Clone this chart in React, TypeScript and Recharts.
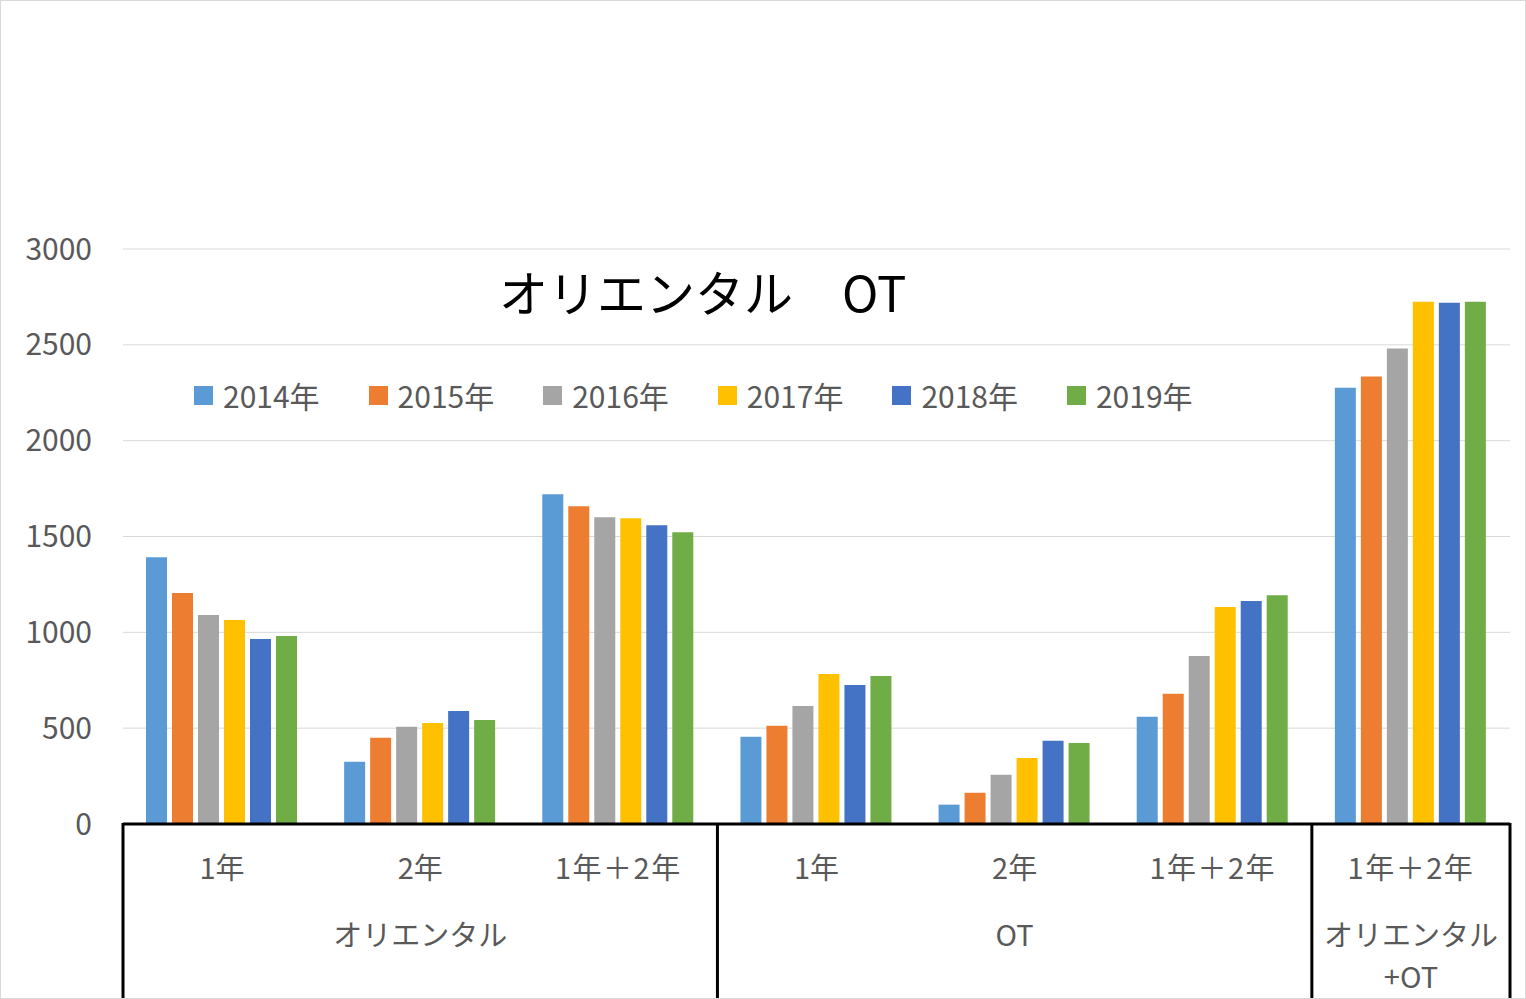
import React from 'react'
import { BarChart, Bar, XAxis, YAxis, CartesianGrid, Legend } from 'recharts'

const categories = ['1年', '2年', '1年＋2年', '1年', '2年', '1年＋2年', '1年＋2年']
const groupLabels = [['オリエンタル'], ['OT'], ['オリエンタル', '+OT']]
const groupStarts = [0, 3, 6]
const groupSizes = [3, 3, 1]

const seriesNames = ['2014年', '2015年', '2016年', '2017年', '2018年', '2019年']
const y2014 = [1392, 325, 1720, 455, 101, 559, 2276]
const y2015 = [1205, 450, 1658, 512, 163, 679, 2335]
const y2016 = [1090, 507, 1600, 616, 257, 877, 2481]
const y2017 = [1064, 527, 1595, 782, 345, 1132, 2725]
const y2018 = [965, 590, 1559, 725, 434, 1163, 2720]
const y2019 = [981, 543, 1522, 772, 423, 1194, 2725]
const yTicks = [0, 500, 1000, 1500, 2000, 2500, 3000]

const COLORS = ['#5B9BD5', '#ED7D31', '#A5A5A5', '#FFC000', '#4472C4', '#70AD47']
const FONT = "'Noto Sans CJK JP', 'Noto Sans', sans-serif"
const TEXT = '#595959'

const allSeries = [y2014, y2015, y2016, y2017, y2018, y2019]
const data = categories.map((c, i) => {
  const row: Record<string, string | number> = { name: c }
  seriesNames.forEach((s, j) => {
    row[s] = allSeries[j][i]
  })
  return row
})

function CategoryTick(props: any) {
  const { x, y, payload } = props
  const index: number = payload.index
  const band = 198.14
  const top = y - 8
  const g = groupStarts.findIndex((s, k) => index >= s && index < s + groupSizes[k])
  const isGroupStart = groupStarts.includes(index)
  const isGroupMid = index - groupStarts[g] === Math.floor((groupSizes[g] - 1) / 2)
  const groupCenter = x + ((groupSizes[g] - 1) / 2 - (index - groupStarts[g])) * band
  const lines = groupLabels[g]
  return (
    <g>
      <text
        x={x}
        y={top + 42}
        textAnchor="middle"
        dominantBaseline="central"
        fill={TEXT}
        fontSize={29}
        fontFamily={FONT}
        letterSpacing={categories[index].length > 2 ? 1.5 : 0}
      >
        {categories[index]}
      </text>
      {isGroupMid &&
        lines.map((l, k) => (
          <text
            key={k}
            x={groupCenter}
            y={top + 109 + k * 42}
            textAnchor="middle"
            dominantBaseline="central"
            fill={TEXT}
            fontSize={29}
            fontFamily={FONT}
          >
            {l}
          </text>
        ))}
      {isGroupStart && (
        <line x1={x - band / 2} x2={x - band / 2} y1={top - 1} y2={top + 180} stroke="#000" strokeWidth={3} />
      )}
      {index === categories.length - 1 && (
        <line x1={x + band / 2} x2={x + band / 2} y1={top - 1} y2={top + 180} stroke="#000" strokeWidth={3} />
      )}
    </g>
  )
}

function LegendContent() {
  return (
    <div style={{ display: 'flex', alignItems: 'center', height: 40 }}>
      {seriesNames.map((s, i) => (
        <div key={s} style={{ display: 'flex', alignItems: 'center', width: 174.6 }}>
          <div style={{ width: 19, height: 19, backgroundColor: COLORS[i] }} />
          <span style={{ marginLeft: 10, fontSize: 30, color: TEXT, fontFamily: FONT, lineHeight: '40px' }}>
            {s}
          </span>
        </div>
      ))}
    </div>
  )
}

export default function App() {
  return (
    <div style={{ position: 'absolute', left: 0, top: 0, width: 1526, height: 999, background: '#fff', overflow: 'hidden' }}>
      <BarChart
        width={1526}
        height={999}
        data={data}
        margin={{ top: 249, right: 16, left: 0, bottom: 0 }}
        barCategoryGap={23}
        barGap={5}
      >
        <CartesianGrid vertical={false} stroke="#d9d9d9" strokeWidth={1} />
        <XAxis
          dataKey="name"
          height={175}
          interval={0}
          tickLine={false}
          axisLine={{ stroke: '#000', strokeWidth: 3 }}
          tick={<CategoryTick />}
          allowDuplicatedCategory
        />
        <YAxis
          width={123}
          domain={[0, 3000]}
          ticks={yTicks}
          tickLine={false}
          axisLine={false}
          tickMargin={25}
          tick={{ fill: TEXT, fontSize: 30, fontFamily: FONT }}
        />
        <Legend
          verticalAlign="middle"
          layout="horizontal"
          content={<LegendContent />}
          wrapperStyle={{ top: 375, left: 194, width: 1100, height: 40 }}
        />
        {seriesNames.map((s, i) => (
          <Bar key={s} dataKey={s} fill={COLORS[i]} isAnimationActive={false} />
        ))}
      </BarChart>
      <div
        style={{
          position: 'absolute',
          left: 499,
          top: 261,
          fontSize: 49,
          lineHeight: '60px',
          fontFamily: FONT,
          color: '#000',
          whiteSpace: 'pre',
        }}
      >
        オリエンタル　OT
      </div>
      <div
        style={{
          position: 'absolute',
          left: 0,
          top: 0,
          width: 1526,
          height: 999,
          boxSizing: 'border-box',
          border: '1px solid #d9d9d9',
          pointerEvents: 'none',
        }}
      />
    </div>
  )
}
